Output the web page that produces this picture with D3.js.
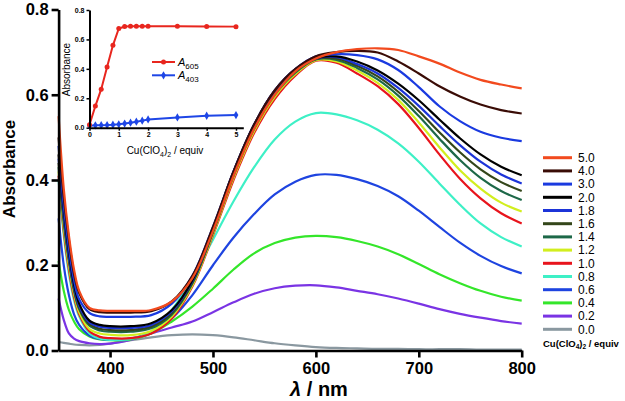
<!DOCTYPE html>
<html><head><meta charset="utf-8">
<script src="https://cdn.jsdelivr.net/npm/d3@7"></script>
<style>body{margin:0;background:#fff}svg{display:block;font-family:"Liberation Sans",Arial,sans-serif}</style>
</head><body><svg id="c" width="625" height="401"></svg>
<script>
const wavelengths=[350,355,360,365,370,380,390,400,420,440,460,480,500,520,540,560,580,600,620,640,660,680,700,720,740,760,780,800];
const seriesLabels=["0.0","0.2","0.4","0.6","0.8","1.0","1.2","1.4","1.6","1.8","2.0","3.0","4.0","5.0"];
const seriesColors=["#8a98a0","#7a34e4","#34e62a","#1e44e0","#3ef0c6","#e8141c","#d2ee1e","#1d6848","#34461a","#1c34d8","#000000","#1a3ae0","#3a0c06","#f24a1e"];
const s00=[0.02,0.018,0.016,0.014,0.013,0.012,0.013,0.016,0.024,0.031,0.036,0.038,0.036,0.031,0.024,0.017,0.012,0.008,0.006,0.005,0.004,0.004,0.003,0.003,0.003,0.002,0.002,0.002];
const s02=[0.122,0.072,0.04,0.028,0.022,0.017,0.015,0.016,0.025,0.04,0.054,0.068,0.09,0.113,0.133,0.146,0.152,0.153,0.148,0.14,0.132,0.122,0.11,0.097,0.086,0.077,0.069,0.063];
const s04=[0.21,0.14,0.095,0.068,0.05,0.033,0.026,0.024,0.026,0.04,0.068,0.103,0.145,0.19,0.228,0.252,0.265,0.269,0.266,0.257,0.244,0.226,0.203,0.179,0.158,0.14,0.126,0.117];
const s06=[0.31,0.2,0.13,0.085,0.06,0.035,0.027,0.025,0.028,0.042,0.075,0.13,0.2,0.265,0.32,0.366,0.396,0.412,0.412,0.402,0.386,0.362,0.328,0.29,0.253,0.222,0.198,0.181];
const s08=[0.40,0.27,0.18,0.118,0.08,0.04,0.028,0.025,0.027,0.045,0.095,0.17,0.26,0.35,0.43,0.495,0.537,0.557,0.554,0.54,0.518,0.486,0.443,0.392,0.342,0.298,0.266,0.244];
const s10=[0.41,0.28,0.19,0.125,0.085,0.045,0.032,0.029,0.029,0.04,0.075,0.15,0.27,0.40,0.51,0.59,0.645,0.68,0.675,0.65,0.62,0.578,0.522,0.46,0.403,0.357,0.322,0.298];
const s12=[0.42,0.29,0.2,0.133,0.09,0.05,0.04,0.037,0.036,0.046,0.08,0.153,0.273,0.405,0.515,0.595,0.648,0.681,0.678,0.657,0.628,0.588,0.535,0.477,0.423,0.38,0.347,0.326];
const s14=[0.43,0.30,0.21,0.14,0.097,0.058,0.047,0.044,0.044,0.052,0.084,0.157,0.277,0.41,0.52,0.60,0.652,0.683,0.682,0.663,0.636,0.598,0.55,0.497,0.447,0.405,0.374,0.353];
const s16=[0.44,0.31,0.215,0.145,0.10,0.062,0.051,0.048,0.048,0.056,0.088,0.16,0.28,0.415,0.525,0.605,0.655,0.684,0.685,0.668,0.643,0.607,0.562,0.512,0.465,0.425,0.395,0.374];
const s18=[0.45,0.32,0.22,0.15,0.105,0.066,0.056,0.053,0.053,0.06,0.092,0.163,0.283,0.418,0.528,0.608,0.658,0.685,0.688,0.672,0.65,0.616,0.574,0.527,0.482,0.443,0.413,0.392];
const s20=[0.46,0.33,0.23,0.155,0.11,0.07,0.06,0.057,0.057,0.064,0.095,0.165,0.285,0.42,0.53,0.61,0.66,0.686,0.69,0.678,0.657,0.626,0.587,0.542,0.498,0.46,0.431,0.411];
const s30=[0.48,0.34,0.24,0.165,0.12,0.088,0.08,0.079,0.079,0.083,0.11,0.175,0.29,0.42,0.53,0.61,0.66,0.69,0.695,0.693,0.683,0.658,0.618,0.573,0.538,0.513,0.499,0.491];
const s40=[0.50,0.36,0.26,0.18,0.135,0.097,0.09,0.089,0.089,0.092,0.115,0.175,0.29,0.42,0.53,0.61,0.66,0.69,0.70,0.703,0.699,0.678,0.65,0.62,0.596,0.577,0.564,0.556];
const s50=[0.55,0.38,0.27,0.19,0.14,0.10,0.094,0.093,0.093,0.095,0.115,0.17,0.28,0.41,0.52,0.60,0.655,0.685,0.70,0.707,0.709,0.705,0.69,0.673,0.652,0.635,0.624,0.615];
const seriesValues=[s00,s02,s04,s06,s08,s10,s12,s14,s16,s18,s20,s30,s40,s50];
const yTicks=[0,0.2,0.4,0.6,0.8];
const xTicks=[400,500,600,700,800];
// inset
const equiv=[0,0.2,0.4,0.6,0.8,1.0,1.2,1.4,1.6,1.8,2.0,3.0,4.0,5.0];
const A605=[0.02,0.147,0.262,0.413,0.56,0.674,0.688,0.689,0.689,0.689,0.689,0.689,0.688,0.687];
const A403=[0.014,0.016,0.017,0.018,0.02,0.023,0.028,0.034,0.041,0.048,0.056,0.07,0.081,0.086];
const insetXTicks=[0,1,2,3,4,5];
const insetYTicks=[0,0.2,0.4,0.6,0.8];

const svg=d3.select("#c");
const x=d3.scaleLinear().domain([350,800]).range([58.6,521.7]);
const y=d3.scaleLinear().domain([0,0.8]).range([350.5,9.5]);
const line=d3.line().x(d=>x(d[0])).y(d=>y(d[1])).curve(d3.curveCatmullRom.alpha(0.5));

const plot=svg.append("g");
seriesValues.forEach((vals,i)=>{
  plot.append("path").attr("d",line(wavelengths.map((w,j)=>[w,vals[j]])))
    .attr("fill","none").attr("stroke",seriesColors[i]).attr("stroke-width",2.2)
    .attr("stroke-linejoin","round");
});

const gy=svg.append("g").attr("transform","translate(58.6,0)")
  .call(d3.axisLeft(y).tickValues(yTicks).tickFormat(d3.format(".1f")).tickSize(7).tickSizeOuter(0).tickPadding(3));
gy.select(".domain").attr("stroke-width",2.6);
gy.selectAll(".tick line").attr("stroke-width",2.6);
gy.selectAll("text").attr("font-size",16.5).attr("font-weight","bold").attr("fill","#000").attr("font-family","Liberation Sans, Arial, sans-serif");

const gx=svg.append("g").attr("transform","translate(0,350.5)")
  .call(d3.axisBottom(x).tickValues(xTicks).tickSize(7).tickSizeOuter(0).tickPadding(5));
gx.select(".domain").attr("stroke-width",2.6);
gx.selectAll(".tick line").attr("stroke-width",2.6);
gx.selectAll("text").attr("font-size",16.5).attr("font-weight","bold").attr("fill","#000").attr("font-family","Liberation Sans, Arial, sans-serif");

svg.append("text").attr("transform","translate(15,169) rotate(-90)").attr("text-anchor","middle")
  .attr("font-size",17).attr("font-weight","bold").text("Absorbance");
const xt=svg.append("text").attr("x",319).attr("y",396).attr("text-anchor","middle")
  .attr("font-size",20).attr("font-weight","bold");
xt.append("tspan").attr("font-style","italic").text("λ");
xt.append("tspan").text(" / nm");

// legend
const lg=svg.append("g");
const order=seriesLabels.map((d,i)=>i).reverse();
order.forEach((si,k)=>{
  const yy=157.7+k*13.2;
  lg.append("line").attr("x1",543).attr("x2",572).attr("y1",yy).attr("y2",yy)
    .attr("stroke",seriesColors[si]).attr("stroke-width",3);
  lg.append("text").attr("x",578).attr("y",yy+4.3).attr("font-size",12).text(seriesLabels[si]);
});
const lt=lg.append("text").attr("x",543).attr("y",347).attr("font-size",9.5).attr("font-weight","bold");
lt.append("tspan").text("Cu(ClO");
lt.append("tspan").attr("font-size",6.5).attr("dy",2).text("4");
lt.append("tspan").attr("dy",-2).text(")");
lt.append("tspan").attr("font-size",6.5).attr("dy",2).text("2");
lt.append("tspan").attr("dy",-2).text(" / equiv");

// inset
const xi=d3.scaleLinear().domain([0,5.25]).range([89.5,243.3]);
const yi=d3.scaleLinear().domain([0,0.8]).range([127.7,10]);
const inset=svg.append("g");
const ilg=d3.line().x(d=>xi(d[0])).y(d=>yi(d[1]));
const redC="#e8261e", blueC="#1e46e6";
inset.append("path").attr("d",ilg(equiv.map((e,i)=>[e,A403[i]]))).attr("fill","none").attr("stroke",blueC).attr("stroke-width",2);
inset.append("path").attr("d",ilg(equiv.map((e,i)=>[e,A605[i]]))).attr("fill","none").attr("stroke",redC).attr("stroke-width",2);
const diamond=d3.symbol().type(d3.symbolDiamond).size(20);
equiv.forEach((e,i)=>{
  inset.append("path").attr("d",diamond()).attr("transform",`translate(${xi(e)},${yi(A403[i])})`).attr("fill",blueC);
  inset.append("circle").attr("cx",xi(e)).attr("cy",yi(A605[i])).attr("r",2.5).attr("fill",redC);
});
const giy=inset.append("g").attr("transform","translate(89.5,0)")
  .call(d3.axisLeft(yi).tickValues(insetYTicks).tickFormat(d3.format(".1f")).tickSize(3).tickSizeOuter(0).tickPadding(2));
giy.select(".domain").attr("stroke-width",2);
giy.selectAll(".tick line").attr("stroke-width",1.5);
giy.selectAll("text").attr("font-size",7).attr("font-weight","bold").attr("fill","#000").attr("font-family","Liberation Sans, Arial, sans-serif");
const gix=inset.append("g").attr("transform","translate(0,127.7)")
  .call(d3.axisBottom(xi).tickValues(insetXTicks).tickFormat(d3.format("d")).tickSize(3).tickSizeOuter(0).tickPadding(1.5));
gix.select(".domain").attr("stroke-width",2);
gix.selectAll(".tick line").attr("stroke-width",1.5);
gix.selectAll("text").attr("font-size",7).attr("font-weight","bold").attr("fill","#000").attr("font-family","Liberation Sans, Arial, sans-serif");
inset.append("text").attr("transform","translate(70,69.5) rotate(-90)").attr("text-anchor","middle").attr("font-size",10).text("Absorbance");
const ixt=inset.append("text").attr("x",165).attr("y",154).attr("text-anchor","middle").attr("font-size",10);
ixt.append("tspan").text("Cu(ClO");
ixt.append("tspan").attr("font-size",7).attr("dy",2.5).text("4");
ixt.append("tspan").attr("dy",-2.5).text(")");
ixt.append("tspan").attr("font-size",7).attr("dy",2.5).text("2");
ixt.append("tspan").attr("dy",-2.5).text(" / equiv");
// inset legend
[[redC,"605",62,"c"],[blueC,"403",75.3,"d"]].forEach(([col,sub,yy,m])=>{
  inset.append("line").attr("x1",152).attr("x2",175).attr("y1",yy).attr("y2",yy).attr("stroke",col).attr("stroke-width",2);
  if(m==="c") inset.append("circle").attr("cx",163.5).attr("cy",yy).attr("r",2.5).attr("fill",col);
  else inset.append("path").attr("d",diamond()).attr("transform",`translate(163.5,${yy})`).attr("fill",col);
  const t=inset.append("text").attr("x",178).attr("y",yy+4).attr("font-size",11);
  t.append("tspan").attr("font-style","italic").text("A");
  t.append("tspan").attr("font-size",8).attr("dy",2.5).text(sub);
});
</script></body></html>
